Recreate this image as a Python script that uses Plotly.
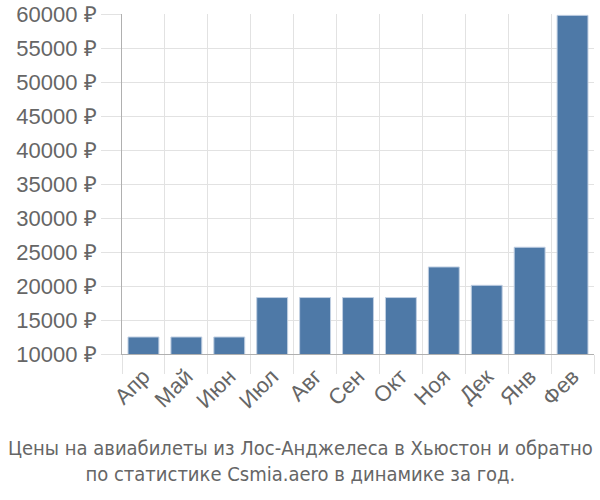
import plotly.graph_objects as go

months = ["Апр", "Май", "Июн", "Июл", "Авг", "Сен", "Окт", "Ноя", "Дек", "Янв", "Фев"]
prices = [12500, 12500, 12500, 18300, 18300, 18300, 18300, 22800, 20100, 25700, 59800]
y_ticks = [10000, 15000, 20000, 25000, 30000, 35000, 40000, 45000, 50000, 55000, 60000]
y_labels = [f"{v} ₽" for v in y_ticks]
title_text = "Цены на авиабилеты из Лос-Анджелеса в Хьюстон и обратно<br>по статистике Csmia.aero в динамике за год."

L, R, T, B = 122, 6, 14, 146
W, H = 600, 500
plot_w = W - L - R
plot_h = H - T - B

fig = go.Figure(go.Bar(
    x=months, y=prices,
    marker=dict(color="#4e79a7", line=dict(color="#c0cfe2", width=1)),
    width=0.72,
))

fig.update_layout(
    width=W, height=H,
    margin=dict(l=L, r=R, t=T, b=B, autoexpand=False),
    paper_bgcolor="white", plot_bgcolor="white",
    showlegend=False,
    font=dict(family="Liberation Sans, Arial, sans-serif", color="#666666", size=22),
    xaxis=dict(
        type="category", tickson="boundaries", showgrid=True, gridcolor="#e2e2e2", gridwidth=1,
        ticks="outside", ticklen=19, tickcolor="#e2e2e2", tickangle=-45,
        showline=True, linecolor="#b0b0b0", linewidth=1, automargin=False,
        tickfont=dict(size=22, color="#666666"),
    ),
    yaxis=dict(
        range=[10000, 60000], tickvals=y_ticks, ticktext=y_labels,
        showgrid=True, gridcolor="#e2e2e2", gridwidth=1,
        ticks="outside", ticklen=20, tickcolor="#e2e2e2",
        showline=True, linecolor="#b0b0b0", linewidth=1, zeroline=False, automargin=False,
        tickfont=dict(size=22, color="#666666"),
    ),
    annotations=[dict(
        text=title_text, x=(W / 2 - L) / plot_w, xref="paper", xanchor="center",
        y=(H - B - 461) / plot_h, yref="paper", yanchor="middle", showarrow=False,
        font=dict(family="Liberation Sans Narrow, DejaVu Sans Condensed, sans-serif", size=20, color="#666666"),
    )],
)

fig.write_html("out.html", post_script="document.body.style.margin='0';",
               config={"displayModeBar": False})
